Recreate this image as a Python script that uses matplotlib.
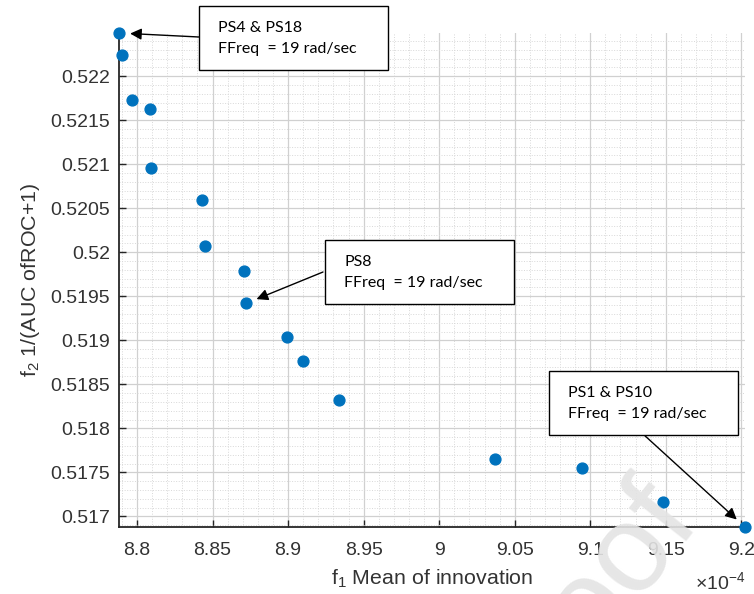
import numpy as np
import matplotlib
matplotlib.use("Agg")
import matplotlib.pyplot as plt
from matplotlib.patches import Rectangle
from matplotlib.ticker import FuncFormatter, MultipleLocator, AutoMinorLocator

plt.rcParams['font.family'] = ['Liberation Sans', 'DejaVu Sans']
plt.rcParams['mathtext.fontset'] = 'custom'
plt.rcParams['mathtext.rm'] = 'Liberation Sans'
plt.rcParams['mathtext.it'] = 'Liberation Sans:italic'

# Pareto front: f1 mean of innovation (x 1e-4), f2 = 1/(AUC of ROC + 1)
f1_mean_innov = np.array([8.7881, 8.7899, 8.7969, 8.8086, 8.8091, 8.8428, 8.8450, 8.8707,
                          8.8723, 8.8994, 8.9098, 8.9340, 9.0372, 9.0944, 9.1484, 9.2024]) * 1e-4
f2_inv_auc = np.array([0.52249, 0.52224, 0.52173, 0.52163, 0.52096, 0.52059, 0.52007, 0.51979,
                       0.51942, 0.51904, 0.51877, 0.51832, 0.51765, 0.51755, 0.51716, 0.51688])

# annotated solutions: (label lines, index of the point)
notes = [
    (["PS4 & PS18", "FFreq  = 19 rad/sec"], 0),
    (["PS8", "FFreq  = 19 rad/sec"], 8),
    (["PS1 & PS10", "FFreq  = 19 rad/sec"], 15),
]

W, H = 754, 594
def fx(px):
    return px / W
def fy(py):
    return 1 - py / H

fig = plt.figure(figsize=(W / 100, H / 100), dpi=100)
ax = fig.add_axes([fx(119), fy(527), 626 / W, 494 / H])

ax.plot(f1_mean_innov, f2_inv_auc, 'o', ms=7.8, color='#0072BD', mec='#0072BD',
        clip_on=False, zorder=5)

ax.set_xlim(f1_mean_innov.min(), f1_mean_innov.max())
ax.set_ylim(f2_inv_auc.min(), f2_inv_auc.max())

ax.xaxis.set_major_locator(MultipleLocator(0.05e-4))
ax.yaxis.set_major_locator(MultipleLocator(0.0005))
ax.xaxis.set_minor_locator(AutoMinorLocator(5))
ax.yaxis.set_minor_locator(AutoMinorLocator(5))
ax.xaxis.set_major_formatter(FuncFormatter(lambda v, _: f"{v * 1e4:g}"))
ax.yaxis.set_major_formatter(FuncFormatter(lambda v, _: f"{v:g}"))

ax.grid(True, which='major', color='#d0d0d0', lw=0.9)
ax.grid(True, which='minor', color='#d8d8d8', lw=0.7, ls=':')
ax.set_axisbelow(True)

for s in ['top', 'right']:
    ax.spines[s].set_visible(False)
for s in ['left', 'bottom']:
    ax.spines[s].set_color('#262626')
    ax.spines[s].set_linewidth(1.3)

ax.tick_params(which='major', direction='in', length=5, width=1.0, color='#262626',
               labelsize=14, labelcolor='#333333')
ax.tick_params(axis='x', pad=11)
ax.tick_params(axis='y', pad=6.5)
ax.tick_params(which='minor', length=0)

ax.set_xlabel(r'f$_1$ Mean of innovation', fontsize=15.4, color='#333333', labelpad=6)
ax.set_ylabel(r'f$_2$ 1/(AUC ofROC+1)', fontsize=15.4, color='#333333', labelpad=6)
ax.text(1.0, -0.112, r'$\times$10$^{-4}$', transform=ax.transAxes, ha='right', va='center',
        fontsize=14, color='#333333')

# text boxes with arrows pointing at the chosen solutions
box_xy = [(199, 6), (325, 240), (549, 371)]
arrow_from = [(199, 37), (323, 272), (643, 434)]
for (lines, idx), (bx, by), (ax0, ay0) in zip(notes, box_xy, arrow_from):
    fig.add_artist(Rectangle((fx(bx), fy(by + 64)), 189 / W, 64 / H, transform=fig.transFigure,
                             facecolor='white', edgecolor='black', lw=1.0, zorder=10))
    for k, line in enumerate(lines):
        fig.text(fx(bx + 19), fy(by + 22 + 21 * k), line, fontsize=11.5, family='Lato',
                 ha='left', va='center', color='black', zorder=11)
    ax.annotate('', xy=(f1_mean_innov[idx], f2_inv_auc[idx]), xycoords='data',
                xytext=(fx(ax0), fy(ay0)), textcoords='figure fraction',
                arrowprops=dict(arrowstyle='-|>', color='black', lw=1.0, shrinkA=0, shrinkB=8,
                                mutation_scale=17),
                annotation_clip=False, zorder=12)

# journal watermark
fig.text(fx(702), fy(522), 'Journal Pre-proof', fontsize=90, color='#e4e4e4', alpha=0.9,
         rotation=52, rotation_mode='anchor', ha='right', va='baseline', zorder=20)

fig.savefig('out.png', dpi=100)
